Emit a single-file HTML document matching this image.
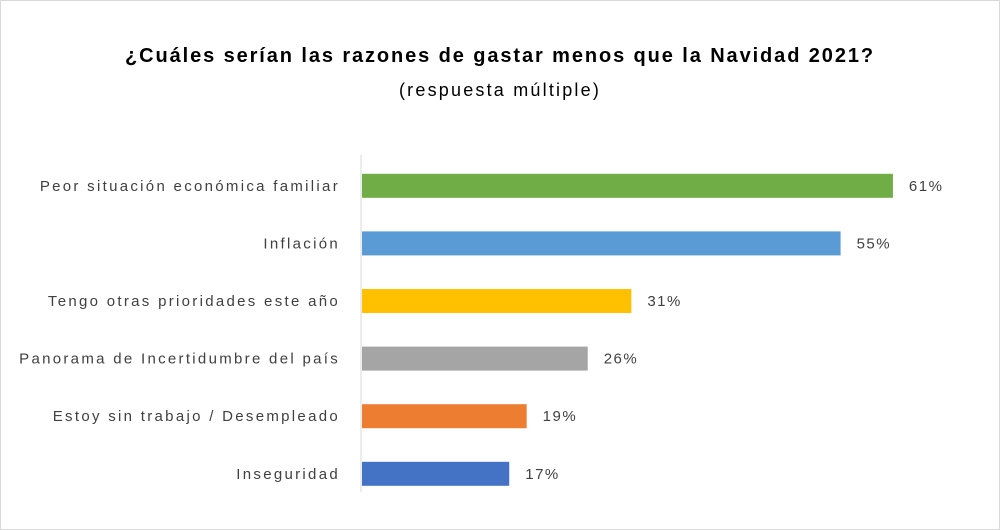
<!DOCTYPE html>
<html><head><meta charset="utf-8"><style>
body{margin:0;background:#fff}
svg{display:block;font-family:"Liberation Sans",sans-serif}
</style></head><body>
<svg id="c" width="1000" height="530" viewBox="0 0 1000 530">
<rect x="0.5" y="0.5" width="999" height="529" fill="#fff" stroke="#d9d9d9"/>
<text x="500" y="62" text-anchor="middle" font-size="20" font-weight="bold" letter-spacing="1.9" fill="#000">¿Cuáles serían las razones de gastar menos que la Navidad 2021?</text>
<text x="500" y="96" text-anchor="middle" font-size="18" letter-spacing="2.2" fill="#000">(respuesta múltiple)</text>
<line x1="361" y1="155" x2="361" y2="492" stroke="#d9d9d9"/>
<g id="bars"></g>
</svg>
<script>
const categories=["Peor situación económica familiar","Inflación","Tengo otras prioridades este año","Panorama de Incertidumbre del país","Estoy sin trabajo / Desempleado","Inseguridad"];
const values=[61,55,31,26,19,17];
const valueLabels=["61%","55%","31%","26%","19%","17%"];
const colors=["#70ad47","#5b9bd5","#ffc000","#a5a5a5","#ed7d31","#4472c4"];
const x0=361,scale=8.72,top0=157,band=57.6,bh=24;
const xs=v=>x0+v*scale;
const yc=i=>top0+band*i+band/2;
const g=document.getElementById('bars');
const ns="http://www.w3.org/2000/svg";
categories.forEach((c,i)=>{
  const r=document.createElementNS(ns,'rect');
  r.setAttribute('x',x0+1);r.setAttribute('y',yc(i)-bh/2);
  r.setAttribute('width',xs(values[i])-x0-1);r.setAttribute('height',bh);
  r.setAttribute('fill',colors[i]);
  
  
  g.appendChild(r);
  const t=document.createElementNS(ns,'text');
  t.setAttribute('x',340);t.setAttribute('y',yc(i)+5);
  t.setAttribute('text-anchor','end');t.setAttribute('font-size','15');t.setAttribute('letter-spacing','2.3');t.setAttribute('fill','#404040');
  t.textContent=c;
  
  
  g.appendChild(t);
  const v=document.createElementNS(ns,'text');
  v.setAttribute('x',xs(values[i])+16);v.setAttribute('y',yc(i)+5);
  v.setAttribute('font-size','15');v.setAttribute('letter-spacing','1.5');v.setAttribute('fill','#404040');
  v.textContent=valueLabels[i];
  
  
  g.appendChild(v);
});
</script>
</body></html>
